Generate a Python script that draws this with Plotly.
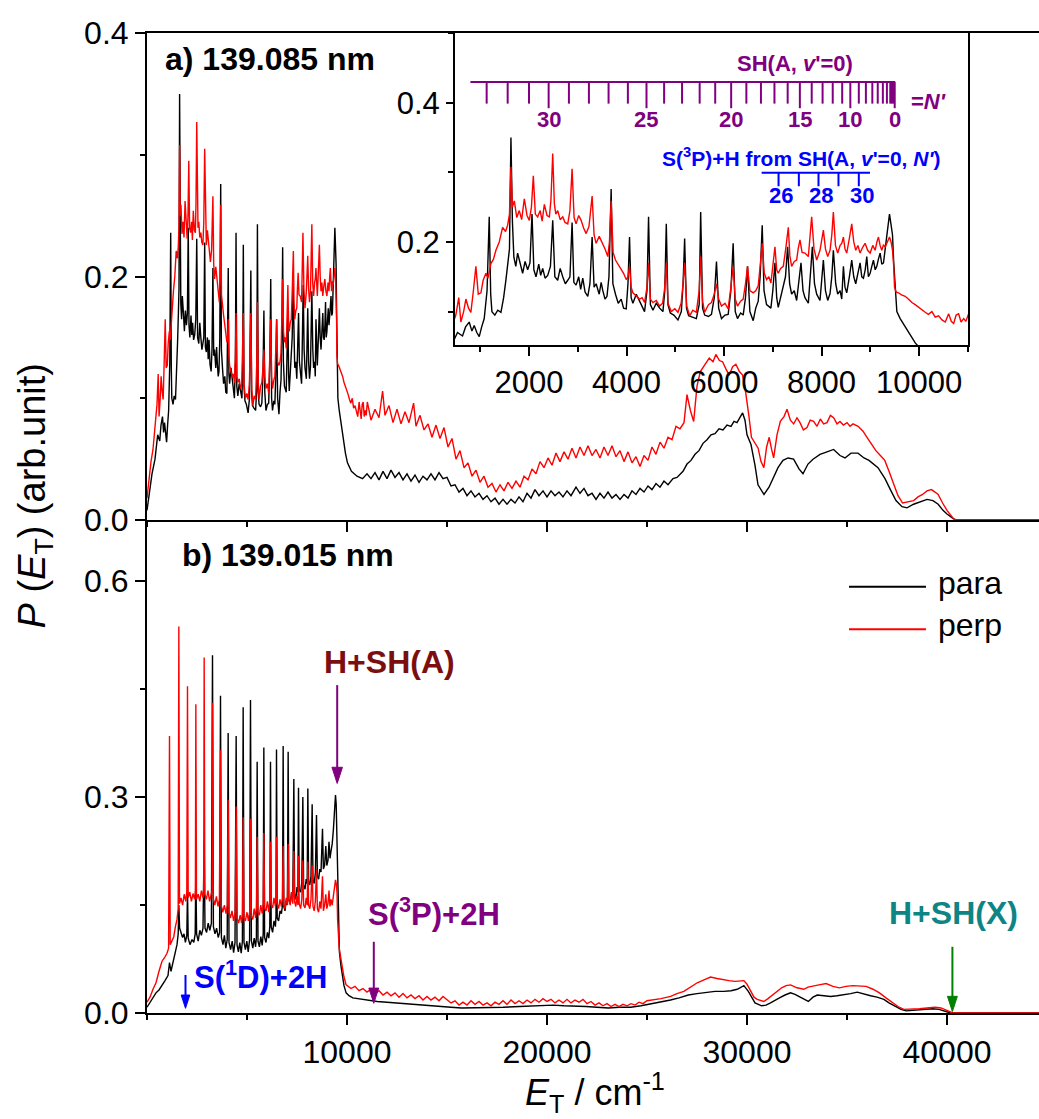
import plotly.graph_objects as go

FONT = "Liberation Sans, Arial, sans-serif"
PURPLE = "#800080"
BLUE = "#0000FF"
GREEN = "#008000"

# ---------------------------------------------------------------------------
# P(E_T) distributions, panel a (139.085 nm): (E_T / cm-1, P)
# ---------------------------------------------------------------------------
A_PARA = [
    (0, 0.008), (100, 0.022), (250, 0.038), (400, 0.050), (534, 0.070), (637, 0.065),
    (700, 0.078), (774, 0.085), (830, 0.072), (877, 0.080), (930, 0.070), (980, 0.064),
    (1030, 0.078), (1082, 0.090), (1140, 0.130), (1185, 0.236), (1215, 0.125), (1240, 0.100),
    (1300, 0.095), (1360, 0.102), (1425, 0.099), (1480, 0.120), (1528, 0.146), (1570, 0.170),
    (1600, 0.190), (1630, 0.350), (1660, 0.230), (1690, 0.178), (1730, 0.165), (1767, 0.184),
    (1820, 0.170), (1870, 0.155), (1920, 0.172), (1973, 0.160), (2020, 0.170), (2062, 0.240),
    (2100, 0.160), (2144, 0.150), (2200, 0.168), (2240, 0.152), (2281, 0.162), (2330, 0.148),
    (2384, 0.152), (2440, 0.165), (2487, 0.231), (2530, 0.150), (2589, 0.145), (2640, 0.162),
    (2692, 0.150), (2745, 0.140), (2795, 0.145), (2840, 0.150), (2884, 0.228), (2920, 0.142),
    (2966, 0.138), (3020, 0.150), (3060, 0.132), (3103, 0.148), (3150, 0.128), (3206, 0.122),
    (3250, 0.140), (3295, 0.207), (3335, 0.135), (3377, 0.140), (3440, 0.125), (3480, 0.142),
    (3514, 0.130), (3560, 0.118), (3600, 0.122), (3640, 0.150), (3685, 0.276), (3720, 0.140),
    (3774, 0.125), (3830, 0.112), (3891, 0.118), (3940, 0.105), (3994, 0.104), (4030, 0.140),
    (4062, 0.207), (4095, 0.120), (4131, 0.112), (4200, 0.125), (4268, 0.115), (4320, 0.108),
    (4370, 0.100), (4420, 0.130), (4452, 0.236), (4490, 0.110), (4542, 0.102), (4610, 0.112),
    (4679, 0.105), (4747, 0.100), (4785, 0.130), (4816, 0.226), (4850, 0.110), (4898, 0.098),
    (4970, 0.095), (5055, 0.088), (5124, 0.100), (5160, 0.140), (5192, 0.205), (5230, 0.105),
    (5274, 0.094), (5350, 0.092), (5432, 0.090), (5490, 0.110), (5521, 0.243), (5560, 0.105),
    (5603, 0.095), (5680, 0.093), (5742, 0.096), (5800, 0.120), (5845, 0.172), (5890, 0.105),
    (5948, 0.090), (6020, 0.095), (6085, 0.096), (6140, 0.130), (6187, 0.198), (6230, 0.100),
    (6276, 0.090), (6340, 0.098), (6393, 0.095), (6440, 0.120), (6482, 0.165), (6530, 0.100),
    (6598, 0.087), (6650, 0.105), (6701, 0.115), (6740, 0.150), (6783, 0.224), (6820, 0.130),
    (6872, 0.110), (6961, 0.105), (7000, 0.130), (7044, 0.170), (7080, 0.120), (7112, 0.106),
    (7160, 0.120), (7215, 0.134), (7260, 0.150), (7304, 0.193), (7345, 0.140), (7386, 0.125),
    (7440, 0.130), (7489, 0.116), (7530, 0.140), (7578, 0.170), (7620, 0.130), (7660, 0.120),
    (7729, 0.112), (7770, 0.150), (7811, 0.193), (7855, 0.140), (7900, 0.125), (7968, 0.116),
    (8000, 0.140), (8037, 0.174), (8080, 0.130), (8126, 0.116), (8174, 0.126), (8210, 0.150),
    (8242, 0.188), (8290, 0.140), (8331, 0.125), (8380, 0.130), (8414, 0.118), (8448, 0.165),
    (8480, 0.135), (8516, 0.127), (8570, 0.150), (8619, 0.174), (8660, 0.150), (8701, 0.140),
    (8745, 0.155), (8790, 0.170), (8825, 0.150), (8859, 0.148), (8895, 0.160), (8927, 0.179),
    (8960, 0.150), (8996, 0.155), (9030, 0.165), (9064, 0.174), (9100, 0.160), (9133, 0.165),
    (9165, 0.175), (9201, 0.184), (9235, 0.168), (9270, 0.170), (9305, 0.190), (9338, 0.212),
    (9365, 0.225), (9393, 0.240), (9425, 0.225), (9455, 0.210), (9480, 0.170), (9496, 0.150),
    (9520, 0.115), (9544, 0.100), (9612, 0.090), (9715, 0.078), (9818, 0.065), (9921, 0.055),
    (10023, 0.047), (10222, 0.040), (10500, 0.036), (10778, 0.034), (11000, 0.038),
    (11200, 0.034), (11400, 0.039), (11600, 0.033), (11800, 0.040), (12000, 0.034),
    (12200, 0.041), (12400, 0.035), (12600, 0.039), (12800, 0.033), (13000, 0.038),
    (13200, 0.032), (13400, 0.037), (13600, 0.031), (13800, 0.036), (14000, 0.033),
    (14200, 0.038), (14400, 0.033), (14600, 0.039), (14800, 0.034), (15000, 0.035),
    (15200, 0.028), (15400, 0.029), (15600, 0.023), (15800, 0.026), (16000, 0.020),
    (16200, 0.024), (16400, 0.019), (16600, 0.022), (16800, 0.017), (17000, 0.020),
    (17200, 0.015), (17400, 0.018), (17600, 0.013), (17800, 0.017), (18000, 0.013),
    (18200, 0.017), (18400, 0.014), (18600, 0.019), (18800, 0.015), (19000, 0.022),
    (19200, 0.018), (19400, 0.025), (19600, 0.020), (19800, 0.024), (20000, 0.019),
    (20200, 0.024), (20400, 0.020), (20600, 0.023), (20800, 0.019), (21000, 0.024),
    (21200, 0.020), (21450, 0.027), (21650, 0.022), (21850, 0.026), (22050, 0.020),
    (22250, 0.022), (22450, 0.017), (22650, 0.022), (22850, 0.018), (23050, 0.023),
    (23250, 0.018), (23450, 0.021), (23650, 0.017), (23850, 0.021), (24050, 0.018),
    (24250, 0.024), (24450, 0.021), (24650, 0.026), (24850, 0.023), (25050, 0.028),
    (25250, 0.025), (25450, 0.030), (25650, 0.027), (25850, 0.032), (26050, 0.029),
    (26300, 0.034), (26500, 0.035), (26800, 0.040), (27000, 0.046), (27200, 0.049),
    (27400, 0.054), (27600, 0.057), (27800, 0.063), (28000, 0.066), (28200, 0.070),
    (28400, 0.071), (28600, 0.075), (28800, 0.074), (29000, 0.078), (29200, 0.077),
    (29350, 0.081), (29500, 0.080), (29650, 0.084), (29780, 0.088),
    (29900, 0.082), (30000, 0.070), (30200, 0.062), (30400, 0.045), (30550, 0.029),
    (30850, 0.021), (31100, 0.027), (31350, 0.036), (31550, 0.043), (31800, 0.049),
    (32050, 0.051), (32330, 0.050), (32600, 0.042), (32800, 0.038), (33050, 0.046),
    (33300, 0.050), (33650, 0.054), (34000, 0.056), (34330, 0.058), (34650, 0.053),
    (34900, 0.051), (35200, 0.055), (35550, 0.055), (35850, 0.051), (36100, 0.049),
    (36550, 0.043), (36900, 0.034), (37200, 0.024), (37450, 0.016), (37750, 0.011),
    (38000, 0.010), (38330, 0.013), (38700, 0.015), (39000, 0.017), (39300, 0.016),
    (39560, 0.013), (39800, 0.008), (40000, 0.005), (40330, 0.001), (40500, 0.0),
    (44600, 0.0),
]

A_PERP = [
    (0, 0.018), (100, 0.035), (200, 0.048), (300, 0.058), (400, 0.075), (500, 0.095),
    (560, 0.120), (603, 0.085), (660, 0.100), (706, 0.118), (760, 0.105), (808, 0.099),
    (860, 0.130), (911, 0.165), (960, 0.125), (1014, 0.127), (1060, 0.145), (1117, 0.155),
    (1160, 0.148), (1219, 0.169), (1270, 0.175), (1322, 0.188), (1390, 0.200), (1459, 0.221),
    (1520, 0.215), (1562, 0.224), (1600, 0.240), (1630, 0.308), (1660, 0.250), (1699, 0.259),
    (1750, 0.235), (1801, 0.245), (1850, 0.232), (1904, 0.262), (1960, 0.238), (2007, 0.231),
    (2050, 0.250), (2089, 0.295), (2130, 0.240), (2178, 0.236), (2230, 0.245), (2270, 0.230),
    (2315, 0.254), (2370, 0.238), (2418, 0.236), (2450, 0.260), (2487, 0.327), (2520, 0.255),
    (2550, 0.240), (2589, 0.245), (2640, 0.232), (2692, 0.236), (2740, 0.228), (2795, 0.226),
    (2840, 0.245), (2884, 0.305), (2925, 0.235), (2966, 0.226), (3020, 0.238), (3069, 0.231),
    (3120, 0.220), (3172, 0.212), (3230, 0.222), (3295, 0.266), (3335, 0.210), (3377, 0.198),
    (3440, 0.208), (3514, 0.198), (3560, 0.190), (3617, 0.179), (3650, 0.200), (3685, 0.259),
    (3725, 0.185), (3774, 0.174), (3830, 0.168), (3891, 0.160), (3940, 0.155), (3994, 0.146),
    (4030, 0.150), (4062, 0.165), (4095, 0.135), (4131, 0.127), (4200, 0.122), (4268, 0.118),
    (4320, 0.120), (4370, 0.113), (4420, 0.135), (4452, 0.170), (4490, 0.118), (4542, 0.113),
    (4610, 0.116), (4679, 0.108), (4740, 0.112), (4785, 0.135), (4816, 0.170), (4850, 0.112),
    (4918, 0.100), (4990, 0.104), (5055, 0.099), (5120, 0.112), (5160, 0.140), (5192, 0.170),
    (5235, 0.108), (5295, 0.094), (5360, 0.102), (5432, 0.099), (5490, 0.130), (5521, 0.179),
    (5560, 0.115), (5603, 0.099), (5680, 0.110), (5742, 0.113), (5800, 0.125), (5845, 0.140),
    (5890, 0.118), (5948, 0.108), (6020, 0.112), (6085, 0.104), (6140, 0.135), (6187, 0.165),
    (6230, 0.118), (6276, 0.108), (6340, 0.115), (6393, 0.118), (6440, 0.140), (6482, 0.165),
    (6530, 0.130), (6598, 0.127), (6650, 0.130), (6701, 0.137), (6740, 0.165), (6783, 0.198),
    (6825, 0.155), (6872, 0.146), (6920, 0.150), (6961, 0.141), (7000, 0.165), (7044, 0.193),
    (7080, 0.160), (7112, 0.155), (7160, 0.162), (7215, 0.165), (7265, 0.190), (7318, 0.221),
    (7350, 0.180), (7386, 0.165), (7440, 0.172), (7489, 0.174), (7520, 0.190), (7557, 0.203),
    (7600, 0.185), (7660, 0.184), (7729, 0.179), (7765, 0.205), (7797, 0.236), (7845, 0.190),
    (7900, 0.174), (7968, 0.188), (8000, 0.200), (8037, 0.217), (8080, 0.190), (8126, 0.179),
    (8174, 0.188), (8210, 0.210), (8242, 0.243), (8285, 0.195), (8331, 0.184), (8380, 0.195),
    (8414, 0.198), (8448, 0.207), (8480, 0.190), (8516, 0.184), (8570, 0.205), (8619, 0.226),
    (8660, 0.200), (8701, 0.188), (8745, 0.195), (8790, 0.184), (8840, 0.192), (8893, 0.198),
    (8945, 0.188), (8996, 0.184), (9050, 0.195), (9099, 0.188), (9135, 0.200), (9167, 0.207),
    (9200, 0.195), (9235, 0.188), (9270, 0.196), (9304, 0.193), (9350, 0.200), (9393, 0.207),
    (9425, 0.200), (9455, 0.188), (9480, 0.165), (9496, 0.135), (9530, 0.128), (9578, 0.127),
    (9640, 0.124), (9715, 0.122), (9780, 0.118), (9852, 0.113), (9920, 0.110), (9989, 0.106),
    (10060, 0.103), (10126, 0.099), (10190, 0.096), (10263, 0.100), (10330, 0.092),
    (10400, 0.094), (10470, 0.088), (10537, 0.085), (10606, 0.097), (10660, 0.086),
    (10709, 0.083), (10760, 0.095), (10811, 0.097), (10860, 0.085), (10914, 0.090),
    (10960, 0.086), (11017, 0.097), (11200, 0.082), (11400, 0.091), (11600, 0.084),
    (11780, 0.106), (11900, 0.086), (12100, 0.094), (12300, 0.080), (12500, 0.091),
    (12700, 0.079), (12900, 0.089), (13100, 0.080), (13330, 0.096), (13450, 0.077),
    (13650, 0.086), (13850, 0.074), (14050, 0.079), (14250, 0.068), (14450, 0.078),
    (14650, 0.067), (14850, 0.076), (15050, 0.060), (15250, 0.067), (15450, 0.050),
    (15650, 0.057), (15850, 0.043), (16050, 0.047), (16250, 0.036), (16450, 0.041),
    (16650, 0.031), (16850, 0.036), (17050, 0.027), (17250, 0.030), (17450, 0.023),
    (17650, 0.029), (17850, 0.024), (18050, 0.031), (18250, 0.026), (18450, 0.032),
    (18650, 0.027), (18850, 0.036), (19050, 0.033), (19250, 0.042), (19450, 0.038),
    (19650, 0.048), (19850, 0.043), (20050, 0.051), (20250, 0.045), (20450, 0.055),
    (20650, 0.048), (20850, 0.056), (21050, 0.050), (21250, 0.059), (21450, 0.051),
    (21650, 0.060), (21850, 0.053), (22050, 0.061), (22250, 0.053), (22450, 0.058),
    (22650, 0.051), (22850, 0.060), (23050, 0.053), (23250, 0.061), (23450, 0.052),
    (23650, 0.057), (23850, 0.048), (24050, 0.056), (24250, 0.047), (24450, 0.052),
    (24650, 0.044), (24850, 0.053), (25050, 0.049), (25250, 0.060), (25450, 0.054),
    (25650, 0.064), (25850, 0.059), (26050, 0.068), (26250, 0.066), (26450, 0.077),
    (26650, 0.075), (26850, 0.080), (27000, 0.103), (27170, 0.090),
    (27333, 0.081), (27500, 0.110), (27667, 0.122), (27900, 0.128), (28111, 0.133),
    (28300, 0.130), (28444, 0.136), (28620, 0.131), (28778, 0.130), (28950, 0.124),
    (29111, 0.119), (29280, 0.126), (29444, 0.128), (29620, 0.122), (29778, 0.119),
    (29890, 0.110), (30000, 0.098), (30100, 0.085), (30222, 0.068), (30400, 0.063),
    (30556, 0.059), (30700, 0.048), (30844, 0.043), (30980, 0.060), (31111, 0.068),
    (31230, 0.058), (31333, 0.051), (31500, 0.070), (31667, 0.081), (31850, 0.085),
    (32000, 0.091), (32170, 0.082), (32333, 0.079), (32500, 0.084), (32650, 0.080),
    (32820, 0.074), (33000, 0.076), (33160, 0.082), (33330, 0.081), (33500, 0.077),
    (33667, 0.083), (33830, 0.079), (34000, 0.080), (34170, 0.086), (34333, 0.084),
    (34500, 0.079), (34650, 0.081), (34820, 0.078), (35000, 0.080), (35150, 0.077),
    (35300, 0.079), (35556, 0.077), (35800, 0.073), (36000, 0.068),
    (36220, 0.063), (36444, 0.057), (36670, 0.053), (36889, 0.049), (37100, 0.040),
    (37333, 0.029), (37550, 0.020), (37778, 0.014), (38050, 0.015), (38333, 0.016),
    (38550, 0.019), (38778, 0.021), (39000, 0.024), (39222, 0.025), (39400, 0.023),
    (39556, 0.021), (39780, 0.014), (40000, 0.008), (40333, 0.001), (40500, 0.0),
    (44600, 0.0),
]

# ---------------------------------------------------------------------------
# P(E_T) distributions, panel b (139.015 nm)
# ---------------------------------------------------------------------------
B_PARA = [
    (0, 0.008), (150, 0.015), (300, 0.022), (450, 0.028), (600, 0.032), (750, 0.038),
    (900, 0.045), (1050, 0.052), (1125, 0.070), (1200, 0.058), (1300, 0.072), (1400, 0.082),
    (1500, 0.095), (1560, 0.110), (1592, 0.150), (1630, 0.118), (1700, 0.112), (1780, 0.105),
    (1850, 0.110), (1920, 0.098), (1990, 0.108), (2025, 0.170), (2060, 0.104), (2150, 0.095),
    (2250, 0.102), (2340, 0.098), (2410, 0.110), (2442, 0.200), (2480, 0.110), (2560, 0.100),
    (2640, 0.115), (2720, 0.108), (2800, 0.118), (2858, 0.240), (2900, 0.118), (2980, 0.112),
    (3060, 0.125), (3140, 0.115), (3220, 0.125), (3275, 0.497), (3320, 0.120), (3400, 0.110),
    (3480, 0.118), (3560, 0.105), (3630, 0.112), (3675, 0.441), (3720, 0.105), (3800, 0.095),
    (3870, 0.108), (3940, 0.090), (4010, 0.102), (4058, 0.389), (4100, 0.098), (4180, 0.088),
    (4260, 0.100), (4330, 0.084), (4400, 0.098), (4458, 0.385), (4500, 0.095), (4570, 0.085),
    (4640, 0.098), (4710, 0.083), (4770, 0.100), (4808, 0.425), (4850, 0.098), (4920, 0.088),
    (4990, 0.100), (5060, 0.085), (5130, 0.102), (5175, 0.435), (5220, 0.100), (5290, 0.090),
    (5360, 0.104), (5430, 0.092), (5470, 0.105), (5508, 0.349), (5550, 0.100), (5620, 0.092),
    (5690, 0.106), (5760, 0.094), (5810, 0.110), (5842, 0.369), (5880, 0.105), (5950, 0.098),
    (6020, 0.112), (6090, 0.104), (6140, 0.120), (6175, 0.349), (6210, 0.120), (6280, 0.112),
    (6350, 0.128), (6420, 0.120), (6450, 0.135), (6475, 0.366), (6510, 0.132), (6580, 0.128),
    (6650, 0.142), (6720, 0.138), (6775, 0.150), (6808, 0.371), (6840, 0.148), (6900, 0.142),
    (6960, 0.156), (7020, 0.150), (7058, 0.363), (7090, 0.158), (7160, 0.152), (7230, 0.168),
    (7290, 0.160), (7342, 0.325), (7380, 0.165), (7440, 0.158), (7500, 0.175), (7545, 0.168),
    (7575, 0.313), (7610, 0.172), (7680, 0.168), (7740, 0.182), (7792, 0.300), (7830, 0.178),
    (7900, 0.172), (7960, 0.186), (8010, 0.180), (8042, 0.312), (8080, 0.182), (8140, 0.178),
    (8200, 0.190), (8258, 0.290), (8300, 0.185), (8360, 0.180), (8420, 0.195), (8475, 0.275),
    (8520, 0.190), (8580, 0.186), (8640, 0.200), (8700, 0.196), (8775, 0.256), (8820, 0.200),
    (8880, 0.205), (8940, 0.232), (8990, 0.205), (9050, 0.212), (9100, 0.238), (9150, 0.215),
    (9200, 0.225), (9260, 0.235), (9320, 0.255), (9380, 0.285), (9425, 0.303), (9460, 0.290),
    (9490, 0.250), (9520, 0.200), (9545, 0.150), (9575, 0.110), (9620, 0.085), (9700, 0.065),
    (9760, 0.055), (9850, 0.038), (9956, 0.028), (10100, 0.024), (10289, 0.021),
    (10550, 0.020), (10844, 0.019), (11200, 0.017), (11511, 0.016), (12000, 0.015),
    (12400, 0.014), (13000, 0.013), (13511, 0.012), (14100, 0.010), (14622, 0.009),
    (15200, 0.008), (15733, 0.007), (16400, 0.007), (17067, 0.007), (17800, 0.008),
    (18622, 0.009), (19200, 0.010), (19733, 0.010), (20300, 0.011), (20844, 0.010),
    (21400, 0.010), (21956, 0.009), (22500, 0.008), (23067, 0.007), (23600, 0.008),
    (24178, 0.008), (24700, 0.010), (25289, 0.013), (25700, 0.015), (26178, 0.018),
    (26600, 0.021), (27067, 0.025), (27500, 0.027), (27956, 0.029), (28400, 0.030),
    (28844, 0.030), (29200, 0.031), (29511, 0.033), (29844, 0.038), (30067, 0.030),
    (30250, 0.020), (30400, 0.014), (30733, 0.010), (30950, 0.011), (31178, 0.014),
    (31400, 0.018), (31622, 0.021), (31900, 0.025), (32178, 0.028), (32400, 0.026),
    (32622, 0.023), (32850, 0.020), (33067, 0.016), (33300, 0.022), (33511, 0.025),
    (33850, 0.024), (34178, 0.023), (34500, 0.024), (34844, 0.025), (35180, 0.027),
    (35511, 0.029), (35850, 0.027), (36178, 0.024), (36500, 0.022), (36844, 0.019),
    (37100, 0.014), (37400, 0.009), (37700, 0.005), (37956, 0.003), (38300, 0.004),
    (38622, 0.005), (38950, 0.006), (39289, 0.006), (39600, 0.005), (39844, 0.003),
    (40178, 0.0), (44600, 0.0),
]

B_PERP = [
    (0, 0.015), (150, 0.022), (300, 0.033), (450, 0.042), (600, 0.058), (750, 0.072),
    (900, 0.078), (1000, 0.083), (1080, 0.090), (1125, 0.385), (1160, 0.095), (1250, 0.100),
    (1340, 0.106), (1420, 0.120), (1500, 0.130), (1560, 0.145), (1592, 0.537), (1625, 0.152),
    (1700, 0.160), (1780, 0.150), (1860, 0.165), (1940, 0.155), (1990, 0.168), (2025, 0.454),
    (2060, 0.160), (2140, 0.168), (2220, 0.155), (2300, 0.166), (2380, 0.158), (2420, 0.170),
    (2442, 0.429), (2475, 0.158), (2560, 0.165), (2640, 0.155), (2720, 0.170), (2800, 0.160),
    (2835, 0.172), (2858, 0.494), (2890, 0.165), (2970, 0.158), (3050, 0.170), (3130, 0.155),
    (3210, 0.165), (3250, 0.170), (3275, 0.431), (3310, 0.160), (3390, 0.150), (3470, 0.162),
    (3550, 0.148), (3620, 0.158), (3675, 0.365), (3710, 0.150), (3790, 0.140), (3870, 0.150),
    (3950, 0.138), (4020, 0.150), (4058, 0.296), (4095, 0.140), (4170, 0.132), (4250, 0.142),
    (4330, 0.128), (4410, 0.140), (4458, 0.287), (4500, 0.132), (4580, 0.125), (4660, 0.136),
    (4730, 0.125), (4780, 0.140), (4808, 0.272), (4845, 0.132), (4920, 0.128), (5000, 0.140),
    (5070, 0.128), (5140, 0.142), (5175, 0.270), (5210, 0.135), (5290, 0.130), (5360, 0.145),
    (5430, 0.132), (5480, 0.148), (5508, 0.245), (5545, 0.140), (5620, 0.136), (5690, 0.150),
    (5760, 0.138), (5810, 0.152), (5842, 0.250), (5880, 0.145), (5950, 0.142), (6020, 0.155),
    (6090, 0.140), (6140, 0.156), (6175, 0.238), (6210, 0.150), (6280, 0.146), (6350, 0.160),
    (6420, 0.148), (6450, 0.160), (6475, 0.245), (6510, 0.152), (6580, 0.145), (6650, 0.158),
    (6720, 0.148), (6775, 0.160), (6808, 0.232), (6840, 0.150), (6900, 0.145), (6960, 0.160),
    (7020, 0.150), (7058, 0.235), (7090, 0.158), (7160, 0.150), (7230, 0.168), (7290, 0.152),
    (7342, 0.225), (7380, 0.155), (7440, 0.148), (7500, 0.162), (7545, 0.150), (7575, 0.218),
    (7610, 0.152), (7680, 0.145), (7740, 0.158), (7792, 0.212), (7830, 0.150), (7900, 0.146),
    (7960, 0.160), (8010, 0.150), (8042, 0.210), (8080, 0.150), (8140, 0.145), (8200, 0.158),
    (8258, 0.205), (8300, 0.148), (8360, 0.142), (8420, 0.156), (8475, 0.200), (8520, 0.145),
    (8580, 0.140), (8640, 0.155), (8700, 0.145), (8775, 0.190), (8820, 0.142), (8880, 0.150),
    (8940, 0.165), (8990, 0.145), (9050, 0.152), (9100, 0.170), (9150, 0.148), (9200, 0.158),
    (9260, 0.150), (9320, 0.165), (9380, 0.178), (9425, 0.185), (9460, 0.180), (9500, 0.168),
    (9530, 0.130), (9560, 0.105), (9610, 0.090), (9680, 0.078), (9733, 0.069), (9850, 0.050),
    (9956, 0.039), (10200, 0.034), (10400, 0.037), (10600, 0.031), (10800, 0.034),
    (11000, 0.029), (11200, 0.033), (11400, 0.027), (11600, 0.031), (11800, 0.025),
    (12000, 0.029), (12200, 0.024), (12400, 0.028), (12600, 0.022), (12800, 0.027),
    (13000, 0.021), (13200, 0.025), (13400, 0.020), (13600, 0.024), (13800, 0.018),
    (14000, 0.023), (14200, 0.018), (14400, 0.022), (14600, 0.017), (14800, 0.023),
    (15000, 0.019), (15200, 0.014), (15400, 0.017), (15600, 0.011), (15800, 0.015),
    (16000, 0.011), (16200, 0.017), (16400, 0.012), (16600, 0.016), (16800, 0.011),
    (17000, 0.014), (17200, 0.010), (17400, 0.015), (17600, 0.012), (17800, 0.017),
    (18000, 0.012), (18200, 0.018), (18400, 0.013), (18600, 0.017), (18800, 0.013),
    (19000, 0.018), (19200, 0.014), (19400, 0.019), (19600, 0.015), (19800, 0.020),
    (20000, 0.016), (20200, 0.019), (20400, 0.014), (20600, 0.018), (20800, 0.014),
    (21000, 0.019), (21200, 0.014), (21400, 0.018), (21600, 0.015), (21800, 0.019),
    (22000, 0.013), (22200, 0.016), (22400, 0.011), (22600, 0.014), (22800, 0.010),
    (23000, 0.013), (23200, 0.009), (23400, 0.012), (23600, 0.009), (23800, 0.012),
    (24000, 0.010), (24200, 0.013), (24400, 0.011), (24600, 0.015), (24800, 0.013),
    (25000, 0.017), (25289, 0.018), (25700, 0.020), (26178, 0.023),
    (26500, 0.027), (26844, 0.030), (27200, 0.036), (27511, 0.042), (27850, 0.046),
    (28178, 0.050), (28500, 0.048), (28844, 0.046), (29100, 0.045), (29400, 0.044),
    (29650, 0.045), (29844, 0.045), (30000, 0.040), (30178, 0.030), (30350, 0.022),
    (30511, 0.019), (30844, 0.016), (31050, 0.020), (31289, 0.025), (31500, 0.030),
    (31733, 0.035), (31950, 0.038), (32178, 0.039), (32500, 0.035), (32844, 0.033),
    (33050, 0.036), (33289, 0.037), (33600, 0.039), (33956, 0.041), (34300, 0.037),
    (34622, 0.035), (34950, 0.037), (35289, 0.038), (35620, 0.038), (35956, 0.037),
    (36300, 0.033), (36622, 0.028), (36950, 0.021), (37289, 0.014), (37550, 0.009),
    (37844, 0.005), (38200, 0.005), (38622, 0.006), (39000, 0.007), (39400, 0.008),
    (39700, 0.007), (39956, 0.004), (40289, 0.0), (44600, 0.0),
]

# Rotational comb for SH(A, v'=0): N' = 33 ... 0 and the E_T of each level
COMB_N = list(range(33, -1, -1))
COMB_E = [1132, 1563, 2000, 2403, 2819, 3229, 3632, 4028, 4410, 4771,
          5139, 5500, 5819, 6146, 6458, 6757, 7034, 7305, 7555, 7798,
          8021, 8229, 8423, 8590, 8764, 8909, 9041, 9152, 9257, 9340,
          9409, 9444, 9479, 9500]
COMB_LABELED = [30, 25, 20, 15, 10, 0]

# S(3P)+H limits from SH(A, v'=0, N')
SP_N = [26, 27, 28, 29, 30]
SP_E = [7118, 7534, 7937, 8347, 8764]
SP_LABELED = [26, 28, 30]

# Dissociation thresholds marked in panel b:
# (E_T, arrow tail, arrow tip, colour, head size)
THRESH_ARROWS = [
    (9510, 0.4556, 0.319, PURPLE, 17),    # H+SH(A)
    (11340, 0.099, 0.0135, PURPLE, 16),   # S(3P)+2H
    (1925, 0.0528, 0.0065, BLUE, 14),     # S(1D)+2H
    (40270, 0.092, 0.002, GREEN, 16),     # H+SH(X)
]

# Axis ticks
X_TICKS = [10000, 20000, 30000, 40000]
YA_TICKS = [0.0, 0.2, 0.4]
YB_TICKS = [0.0, 0.3, 0.6]
XI_TICKS = [2000, 4000, 6000, 8000, 10000]
YI_TICKS = [0.2, 0.4]


def xs(pairs):
    return [p[0] for p in pairs]


def ys(pairs):
    return [p[1] for p in pairs]


LINE_W = 1.4
fig = go.Figure()

# panel a (main)
fig.add_trace(go.Scatter(x=xs(A_PARA), y=ys(A_PARA), mode="lines", name="para",
                         line=dict(color="black", width=LINE_W), xaxis="x2", yaxis="y2"))
fig.add_trace(go.Scatter(x=xs(A_PERP), y=ys(A_PERP), mode="lines", name="perp",
                         line=dict(color="red", width=LINE_W), xaxis="x2", yaxis="y2"))
# panel b
fig.add_trace(go.Scatter(x=xs(B_PARA), y=ys(B_PARA), mode="lines", name="para",
                         line=dict(color="black", width=LINE_W), xaxis="x", yaxis="y"))
fig.add_trace(go.Scatter(x=xs(B_PERP), y=ys(B_PERP), mode="lines", name="perp",
                         line=dict(color="red", width=LINE_W), xaxis="x", yaxis="y"))
# inset: low-E_T part of panel a
fig.add_trace(go.Scatter(x=xs(A_PARA), y=ys(A_PARA), mode="lines",
                         line=dict(color="black", width=LINE_W), xaxis="x3", yaxis="y3"))
fig.add_trace(go.Scatter(x=xs(A_PERP), y=ys(A_PERP), mode="lines",
                         line=dict(color="red", width=LINE_W), xaxis="x3", yaxis="y3"))

# threshold arrows: a shaft with a filled arrow-head marker at the tip
for e, tail, tip, col, head in THRESH_ARROWS:
    fig.add_trace(go.Scatter(
        x=[e, e], y=[tail, tip], mode="lines+markers", xaxis="x", yaxis="y",
        line=dict(color=col, width=2),
        marker=dict(symbol="arrow", angleref="previous", size=[0, head], color=col,
                    opacity=1, line=dict(width=1, color=col)),
        hoverinfo="skip"))

TICKFONT = dict(family=FONT, size=32, color="black")
INSET_TICKFONT = dict(family=FONT, size=31, color="black")
axis_common = dict(showline=True, linecolor="black", linewidth=2, ticks="outside",
                   ticklen=10, tickwidth=2, tickcolor="black", showgrid=False,
                   zeroline=False)
minor_common = dict(ticklen=5, tickwidth=2, ticks="outside", tickcolor="black")

SPLIT = 0.503

fig.update_layout(
    width=1039, height=1119,
    margin=dict(l=147, r=0, t=33, b=106),
    paper_bgcolor="white", plot_bgcolor="white",
    xaxis=dict(**axis_common, tickfont=TICKFONT, domain=[0, 1], range=[0, 44600],
               anchor="y", tickvals=X_TICKS, ticktext=[str(v) for v in X_TICKS],
               minor=dict(dtick=5000, tick0=0, **minor_common)),
    yaxis=dict(**axis_common, tickfont=TICKFONT, domain=[0, SPLIT], range=[0, 0.685],
               anchor="x", tickvals=YB_TICKS, ticktext=["%.1f" % v for v in YB_TICKS],
               minor=dict(dtick=0.15, tick0=0, **minor_common)),
    xaxis2=dict(**axis_common, tickfont=TICKFONT, domain=[0, 1], range=[0, 44600],
                anchor="y2", tickvals=X_TICKS, showticklabels=False, mirror=True,
                minor=dict(dtick=5000, tick0=0, **minor_common)),
    yaxis2=dict(**axis_common, tickfont=TICKFONT, domain=[SPLIT, 1], range=[0, 0.4],
                anchor="x2", tickvals=YA_TICKS, ticktext=["%.1f" % v for v in YA_TICKS],
                minor=dict(dtick=0.1, tick0=0, **minor_common)),
    xaxis3=dict(**{**axis_common, "ticklen": 9}, tickfont=INSET_TICKFONT,
                domain=[0.3453, 0.9204], range=[483, 11003], anchor="y3", mirror=True,
                tickvals=XI_TICKS, ticktext=[str(v) for v in XI_TICKS],
                minor=dict(dtick=1000, tick0=0, **minor_common)),
    yaxis3=dict(**{**axis_common, "ticklen": 7}, tickfont=INSET_TICKFONT,
                domain=[0.6816, 1], range=[0.052, 0.5], anchor="x3", mirror=True,
                tickvals=YI_TICKS, ticktext=["%.1f" % v for v in YI_TICKS],
                minor=dict(dtick=0.1, tick0=0, **minor_common)),
    showlegend=False,
)

shapes = []
ann = []

# ---- SH(A, v'=0) rotational comb in the inset ----
COMB_TOP, COMB_BOT, COMB_BOT_LONG, COMB_LBL = 0.4295, 0.3986, 0.392, 0.3756
shapes.append(dict(type="line", xref="x3", yref="y3", x0=799, x1=COMB_E[-1] + 10,
                   y0=COMB_TOP, y1=COMB_TOP, line=dict(color=PURPLE, width=2)))
for n, e in zip(COMB_N, COMB_E):
    bot = COMB_BOT_LONG if n in COMB_LABELED else COMB_BOT
    shapes.append(dict(type="line", xref="x3", yref="y3", x0=e, x1=e,
                       y0=COMB_TOP, y1=bot, line=dict(color=PURPLE, width=2)))
    if n in COMB_LABELED:
        ann.append(dict(xref="x3", yref="y3", x=e, y=COMB_LBL, text="<b>%d</b>" % n,
                        showarrow=False, xanchor="center", yanchor="middle",
                        font=dict(family=FONT, size=22, color=PURPLE)))
ann.append(dict(xref="x3", yref="y3", x=7465, y=0.456,
                text="<b>SH(A, <i>v</i>'=0)</b>", showarrow=False,
                xanchor="center", yanchor="middle",
                font=dict(family=FONT, size=22, color=PURPLE)))
ann.append(dict(xref="x3", yref="y3", x=9790, y=0.401,
                text="<b>=<i>N'</i></b>", showarrow=False,
                xanchor="left", yanchor="middle",
                font=dict(family=FONT, size=22, color=PURPLE)))

# ---- S(3P)+H comb ----
SP_TOP, SP_BOT, SP_LBL = 0.2992, 0.280, 0.2672
shapes.append(dict(type="line", xref="x3", yref="y3", x0=6771, x1=8993,
                   y0=SP_TOP, y1=SP_TOP, line=dict(color=BLUE, width=2)))
for n, e in zip(SP_N, SP_E):
    shapes.append(dict(type="line", xref="x3", yref="y3", x0=e, x1=e,
                       y0=SP_TOP, y1=SP_BOT, line=dict(color=BLUE, width=2)))
    if n in SP_LABELED:
        ann.append(dict(xref="x3", yref="y3", x=e + 60, y=SP_LBL, text="<b>%d</b>" % n,
                        showarrow=False, xanchor="center", yanchor="middle",
                        font=dict(family=FONT, size=22, color=BLUE)))
ann.append(dict(xref="x3", yref="y3", x=7569, y=0.322,
                text="<b>S(<sup>3</sup>P)+H from SH(A, <i>v</i>'=0, <i>N'</i>)</b>",
                showarrow=False, xanchor="center", yanchor="middle",
                font=dict(family=FONT, size=21, color=BLUE)))

# ---- panel titles ----
ann.append(dict(xref="paper", yref="paper", x=0.0179, y=0.9735, text="<b>a) 139.085 nm</b>",
                showarrow=False, xanchor="left", yanchor="middle",
                font=dict(family=FONT, size=32, color="black")))
ann.append(dict(xref="paper", yref="paper", x=0.037, y=0.467, text="<b>b) 139.015 nm</b>",
                showarrow=False, xanchor="left", yanchor="middle",
                font=dict(family=FONT, size=32, color="black")))

# ---- channel labels in panel b ----
ann.append(dict(xref="x", yref="y", x=12125, y=0.488, text="<b>H+SH(A)</b>",
                showarrow=False, xanchor="center", yanchor="middle",
                font=dict(family=FONT, size=32, color="#7B0F0F")))
ann.append(dict(xref="x", yref="y", x=14340, y=0.1407, text="<b>S(<sup>3</sup>P)+2H</b>",
                showarrow=False, xanchor="center", yanchor="middle",
                font=dict(family=FONT, size=31, color=PURPLE)))
ann.append(dict(xref="x", yref="y", x=2260, y=0.0528, text="<b>S(<sup>1</sup>D)+2H</b>",
                showarrow=False, xanchor="left", yanchor="middle",
                font=dict(family=FONT, size=31, color=BLUE)))
ann.append(dict(xref="x", yref="y", x=40315, y=0.1385, text="<b>H+SH(X)</b>",
                showarrow=False, xanchor="center", yanchor="middle",
                font=dict(family=FONT, size=32, color="#0E8585")))

# ---- legend ----
for yy, col, lbl in [(0.435, "black", "para"), (0.3915, "red", "perp")]:
    shapes.append(dict(type="line", xref="paper", yref="paper", x0=0.787, x1=0.8733,
                       y0=yy, y1=yy, line=dict(color=col, width=2)))
    ann.append(dict(xref="paper", yref="paper", x=0.8845, y=yy + 0.004, text=lbl,
                    showarrow=False, xanchor="left", yanchor="middle",
                    font=dict(family=FONT, size=32, color="black")))

# ---- axis titles ----
ann.append(dict(xref="paper", yref="paper", x=-0.1256, y=0.528,
                text="<i>P</i> (<i>E</i><sub>T</sub>) (arb.unit)", textangle=-90,
                showarrow=False, xanchor="center", yanchor="middle",
                font=dict(family=FONT, size=38, color="black")))
ann.append(dict(xref="paper", yref="paper", x=0.502, y=-0.0816,
                text="<i>E</i><sub>T</sub> / cm<sup>-1</sup>",
                showarrow=False, xanchor="center", yanchor="middle",
                font=dict(family=FONT, size=36, color="black")))

fig.update_layout(shapes=shapes, annotations=ann)
fig.write_html("out.html")
